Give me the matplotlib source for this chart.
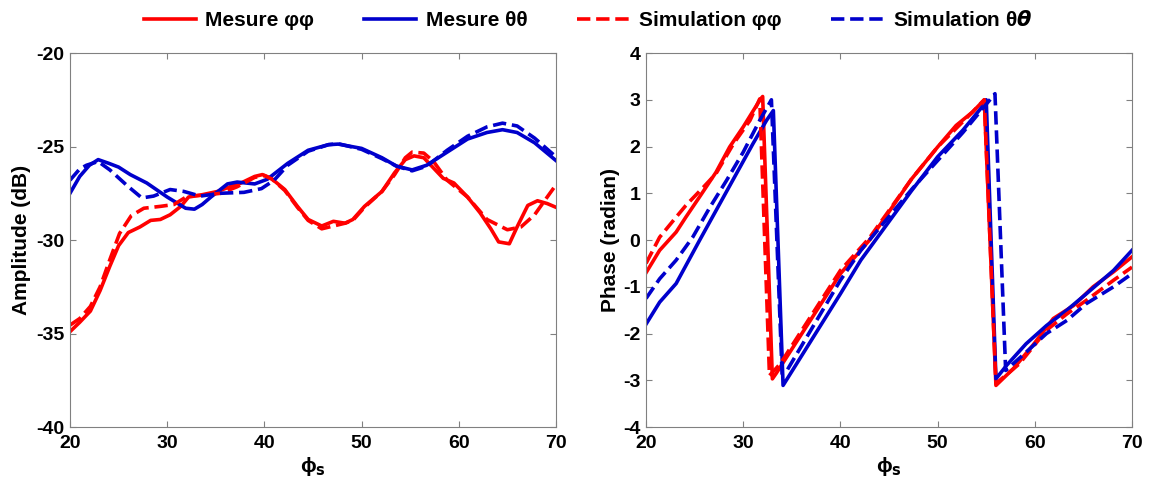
import numpy as np
import matplotlib
matplotlib.use("Agg")
import matplotlib.pyplot as plt

plt.rcParams['font.family'] = ['Liberation Sans', 'DejaVu Sans']
plt.rcParams['font.weight'] = 'bold'
plt.rcParams['axes.unicode_minus'] = False

# amplitude (dB) vs phi_s
amp_mes_pp_x = [20, 21, 22.1, 23.1, 24.1, 25, 26, 27.2, 28.3, 29.3, 30.3, 31.4, 32.2, 33.4, 35.2, 36.2,
                37.6, 39, 39.8, 40.7, 42.1, 43.4, 44.5, 45.9, 47.1, 48.3, 49.1, 50.3, 52.1, 53.4, 54.5,
                55.4, 56.4, 57.4, 58.4, 59.5, 60.9, 62.2, 63.3, 64.1, 65.2, 66, 67.1, 68.1, 69.1, 70]
amp_mes_pp_y = [-34.9, -34.4, -33.8, -32.7, -31.4, -30.3, -29.6, -29.3, -28.95, -28.9, -28.65, -28.2,
                -27.7, -27.6, -27.4, -27.2, -26.95, -26.6, -26.5, -26.7, -27.3, -28.2, -28.9, -29.25,
                -29.0, -29.1, -28.9, -28.2, -27.4, -26.4, -25.7, -25.5, -25.6, -26.15, -26.7, -26.95,
                -27.7, -28.55, -29.4, -30.1, -30.2, -29.3, -28.15, -27.9, -28.05, -28.25]

amp_sim_pp_x = [20, 21, 22.1, 23.1, 24.1, 25.1, 26.3, 27.6, 29.3, 30.7, 32.1, 33.8, 35.5, 37.2, 39, 40,
                40.8, 42.1, 43.4, 44.5, 45.9, 47.1, 48.3, 49.1, 50.3, 52.1, 53.4, 54.5, 55.2, 56.4, 57.4,
                58.8, 60.9, 62.9, 65, 66.4, 67.8, 69.1, 70]
amp_sim_pp_y = [-34.55, -34.2, -33.55, -32.5, -31.05, -29.65, -28.7, -28.3, -28.2, -28.1, -27.65, -27.6,
                -27.5, -27.15, -26.65, -26.55, -26.75, -27.35, -28.25, -28.95, -29.4, -29.25, -29.1,
                -28.95, -28.25, -27.4, -26.5, -25.6, -25.3, -25.35, -25.8, -26.8, -27.7, -28.9, -29.45,
                -29.3, -28.65, -27.7, -27.05]

amp_mes_tt_x = [20, 21, 22, 22.9, 24, 25, 26.2, 27.9, 30, 31.9, 32.8, 33.6, 34.5, 36.2, 37.2, 39, 40.3,
                42.4, 44.5, 46.6, 47.6, 50, 52.1, 53.6, 55.2, 56.7, 58.8, 60.9, 62.9, 64.5, 66, 67.8, 70]
amp_mes_tt_y = [-27.5, -26.6, -26.0, -25.7, -25.9, -26.1, -26.5, -26.95, -27.7, -28.3, -28.35, -28.1,
                -27.7, -27.0, -26.9, -27.0, -26.75, -25.9, -25.2, -24.9, -24.87, -25.1, -25.6, -26.05,
                -26.25, -26.0, -25.3, -24.6, -24.25, -24.1, -24.25, -24.8, -25.75]

amp_sim_tt_x = [20, 21, 21.7, 22.9, 24.1, 25.9, 27.4, 28.6, 30.3, 31.7, 33.4, 35.5, 37.9, 39.7, 41, 42.4,
                44.5, 46.6, 47.6, 50, 52.1, 53.6, 55.2, 56.7, 58.8, 60.9, 62.9, 64.5, 66, 67.8, 70]
amp_sim_tt_y = [-26.8, -26.2, -26.0, -25.8, -26.25, -27.1, -27.75, -27.65, -27.3, -27.4, -27.65, -27.5,
                -27.45, -27.25, -26.8, -26.0, -25.25, -24.9, -24.85, -25.15, -25.65, -26.05, -26.3,
                -26.05, -25.2, -24.45, -23.95, -23.75, -23.9, -24.55, -25.55]

# phase (radian) vs phi_s
ph_mes_pp_x = [20, 21.4, 23.1, 24.1, 25.5, 27.2, 28.6, 30, 31.7, 32, 33.0, 33.4, 40, 43, 47.3, 50, 51.9,
               53.6, 54.8, 56, 57.8, 59.8, 61.9, 64, 66, 68.1, 70]
ph_mes_pp_y = [-0.7, -0.22, 0.17, 0.49, 0.92, 1.45, 1.99, 2.42, 2.99, 3.07, -2.97, -2.85, -0.72, 0.0,
               1.3, 1.99, 2.45, 2.74, 3.0, -3.11, -2.75, -2.25, -1.68, -1.4, -1.0, -0.68, -0.36]

ph_sim_pp_x = [20, 21.4, 23.1, 24.1, 25.9, 27.2, 29, 30.7, 31.7, 32.7, 33.8, 40, 43, 47.3, 50, 53.6,
               54.8, 56, 58.4, 61.2, 63.3, 65.3, 68.1, 70]
ph_sim_pp_y = [-0.5, 0.06, 0.49, 0.74, 1.13, 1.42, 2.06, 2.56, 3.02, -2.9, -2.65, -0.65, 0.05, 1.3,
               1.99, 2.74, 3.0, -3.07, -2.65, -1.93, -1.58, -1.29, -0.86, -0.58]

ph_mes_tt_x = [20, 21.4, 23.1, 25.5, 27.6, 29.3, 31, 32.4, 33.1, 34.1, 40, 42.1, 47.3, 50, 52.6, 54.7,
               55, 56, 57.1, 59.1, 61.2, 63.3, 65.3, 68.1, 70]
ph_mes_tt_y = [-1.8, -1.33, -0.93, -0.01, 0.78, 1.42, 2.06, 2.56, 2.77, -3.11, -1.15, -0.43, 1.05,
               1.78, 2.35, 2.88, 3.0, -2.97, -2.68, -2.22, -1.83, -1.5, -1.15, -0.65, -0.22]

ph_sim_tt_x = [20, 21.4, 23.1, 24.8, 26.6, 28.3, 30, 31.7, 32.9, 34, 34.5, 40, 42.1, 47.4, 52.6, 55.9,
               57, 59.1, 61.2, 63.3, 65.3, 68.1, 70]
ph_sim_tt_y = [-1.25, -0.83, -0.43, 0.06, 0.71, 1.28, 1.88, 2.56, 3.0, -2.86, -2.79, -0.86, -0.22, 1.1,
               2.3, 3.13, -2.79, -2.4, -2.0, -1.72, -1.36, -1.0, -0.72]

red = '#FF0000'
blue = '#0000CC'
lw = 2.6

fig = plt.figure(figsize=(11.53, 4.83), dpi=100)
ax1 = fig.add_axes([0.0607, 0.1159, 0.4215, 0.7743])
ax2 = fig.add_axes([0.5603, 0.1159, 0.4215, 0.7743])

l1, = ax1.plot(amp_mes_pp_x, amp_mes_pp_y, color=red, lw=lw, label='Mesure φφ')
l2, = ax1.plot(amp_mes_tt_x, amp_mes_tt_y, color=blue, lw=lw, label='Mesure θθ')
l3, = ax1.plot(amp_sim_pp_x, amp_sim_pp_y, color=red, lw=lw, ls='--', label='Simulation φφ')
l4, = ax1.plot(amp_sim_tt_x, amp_sim_tt_y, color=blue, lw=lw, ls='--', label=r'Simulation θ$\theta$')

ax2.plot(ph_mes_pp_x, ph_mes_pp_y, color=red, lw=lw)
ax2.plot(ph_mes_tt_x, ph_mes_tt_y, color=blue, lw=lw)
ax2.plot(ph_sim_pp_x, ph_sim_pp_y, color=red, lw=lw, ls='--')
ax2.plot(ph_sim_tt_x, ph_sim_tt_y, color=blue, lw=lw, ls='--')

ax1.set_xlim(20, 70)
ax1.set_ylim(-40, -20)
ax1.set_yticks(np.arange(-40, -19, 5))
ax1.set_ylabel('Amplitude (dB)', fontsize=15, fontweight='bold', labelpad=4)

ax2.set_xlim(20, 70)
ax2.set_ylim(-4, 4)
ax2.set_yticks(np.arange(-4, 5, 1))
ax2.set_ylabel('Phase (radian)', fontsize=15, fontweight='bold', labelpad=2)

for ax in (ax1, ax2):
    ax.set_xticks(np.arange(20, 71, 10))
    ax.set_xlabel(r'ϕ$_{\mathbf{s}}$', fontsize=15, fontweight='bold', labelpad=2)
    ax.tick_params(direction='in', top=True, right=True, labelsize=14, length=4, color='#808080')
    ax.tick_params(axis='x', pad=6)
    ax.tick_params(axis='y', pad=4)
    for lab in ax.get_xticklabels() + ax.get_yticklabels():
        lab.set_fontweight('bold')
    for s in ax.spines.values():
        s.set_color('#808080')

fig.legend(handles=[l1, l2, l3, l4], loc='center', bbox_to_anchor=(0.51, 0.958), ncol=4,
           frameon=False, handlelength=2.5, handletextpad=0.45, columnspacing=2.4,
           prop={'weight': 'bold', 'size': 15})

fig.savefig('out.png', dpi=100)
